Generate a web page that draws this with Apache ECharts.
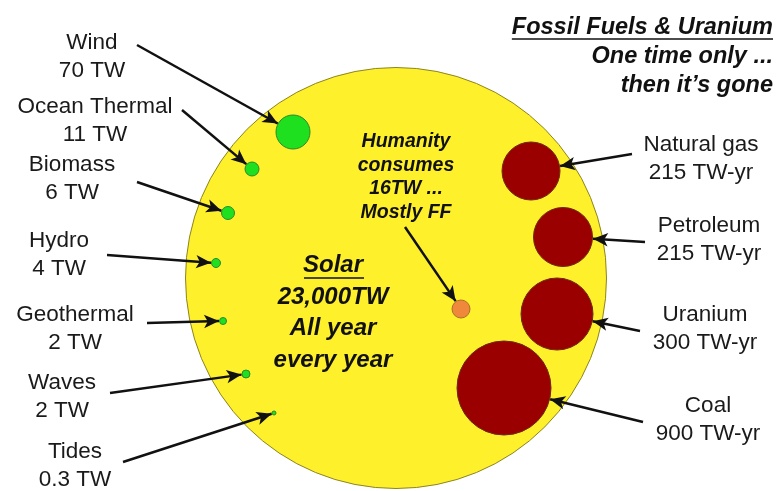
<!DOCTYPE html>
<html>
<head>
<meta charset="utf-8">
<script src="https://cdn.jsdelivr.net/npm/echarts@6/dist/echarts.min.js"></script>
<style>
  html, body { margin: 0; padding: 0; background: #fff; }
  #chart { width: 776px; height: 491px; }
</style>
</head>
<body>
<div id="chart"></div>
<script>
// data
const renewNames = ['Wind', 'Ocean Thermal', 'Biomass', 'Hydro', 'Geothermal', 'Waves', 'Tides'];
const renewTW = [70, 11, 6, 4, 2, 2, 0.3];
const fossilNames = ['Natural gas', 'Petroleum', 'Uranium', 'Coal'];
const fossilTWyr = [215, 215, 300, 900];
const solarTW = 23000;
const humanityTW = 16;

// layout (pixel-like units of the hidden axes)
const renewPos = [[293, 132], [252, 169], [228, 213], [216, 263], [223, 321], [246, 374], [274, 413]];
const renewSize = [34, 14, 13, 9, 7, 8, 4];
const renewLabelPos = [[92, 57], [95, 121], [72, 179], [59, 255], [75, 329], [62, 397], [75, 466]];
const renewTail = [[137, 45], [182, 110], [137, 182], [107, 255], [147, 323], [110, 393], [123, 462]];

const fossilPos = [[531, 171], [563, 237], [557, 314], [504, 388]];
const fossilSize = [58, 59, 72, 94];
const fossilLabelPos = [[701, 159], [709, 240], [705, 329], [708, 420]];
const fossilTail = [[632, 154], [645, 242], [640, 331], [643, 422]];

const solarPos = [396, 278];
const solarSize = 421;
const humanityPos = [461, 309];
const humanitySize = 18;
const humanityTail = [405, 227];

const FONT = "'Liberation Sans', Arial, sans-serif";

// arrow from tail to the edge of a bubble (tip sits on the line end)
function arrowTo(tail, center, size) {
  var dx = center[0] - tail[0], dy = center[1] - tail[1];
  var d = Math.sqrt(dx * dx + dy * dy);
  var back = size / 2 + 0.5;
  return { coords: [tail, [center[0] - dx / d * back, center[1] - dy / d * back]] };
}

var arrows = [];
renewTail.forEach(function (t, i) { arrows.push(arrowTo(t, renewPos[i], renewSize[i])); });
fossilTail.forEach(function (t, i) { arrows.push(arrowTo(t, fossilPos[i], fossilSize[i])); });
arrows.push(arrowTo(humanityTail, humanityPos, humanitySize));

var labelData = [];
renewNames.forEach(function (n, i) {
  labelData.push({ value: renewLabelPos[i], name: n + '\n' + renewTW[i] + ' TW' });
});
fossilNames.forEach(function (n, i) {
  labelData.push({ value: fossilLabelPos[i], name: n + '\n' + fossilTWyr[i] + ' TW-yr' });
});

var measure = document.createElement('canvas').getContext('2d');
function textWidth(txt, font) { measure.font = font; return measure.measureText(txt).width; }

var headFont = 'italic bold 23.5px ' + FONT;
var solarFont = 'italic bold 24px ' + FONT;
var headW = textWidth('Fossil Fuels & Uranium', headFont);
var solarW = textWidth('Solar', solarFont);

var chart = echarts.init(document.getElementById('chart'));
var option = {
  animation: false,
  backgroundColor: '#ffffff',
  grid: { left: 0, right: 0, top: 0, bottom: 0 },
  xAxis: { type: 'value', min: 0, max: 776, show: false },
  yAxis: { type: 'value', min: 0, max: 491, inverse: true, show: false },
  series: [
    {
      name: 'Solar',
      type: 'scatter',
      z: 1,
      symbolSize: solarSize,
      itemStyle: { color: '#fff02c', borderColor: '#8c8420', borderWidth: 1, opacity: 1 },
      data: [solarPos]
    },
    {
      name: 'Renewables',
      type: 'scatter',
      z: 3,
      symbolSize: function (v, p) { return renewSize[p.dataIndex]; },
      itemStyle: { color: '#1fe01f', borderColor: '#2a8a2a', borderWidth: 1, opacity: 1 },
      data: renewPos
    },
    {
      name: 'Fossil',
      type: 'scatter',
      z: 3,
      symbolSize: function (v, p) { return fossilSize[p.dataIndex]; },
      itemStyle: { color: '#9a0000', borderColor: '#6e2a10', borderWidth: 1, opacity: 1 },
      data: fossilPos
    },
    {
      name: 'Humanity',
      type: 'scatter',
      z: 3,
      symbolSize: humanitySize,
      itemStyle: { color: '#f0883c', borderColor: '#a8702a', borderWidth: 1, opacity: 1 },
      data: [humanityPos]
    },
    {
      name: 'Arrows',
      type: 'lines',
      coordinateSystem: 'cartesian2d',
      z: 4,
      symbol: ['none', 'arrow'],
      symbolSize: [0, [10, 15]],
      lineStyle: { color: '#111', width: 2.5, opacity: 1 },
      data: arrows
    },
    {
      name: 'Labels',
      type: 'scatter',
      z: 5,
      symbolSize: 0,
      silent: true,
      itemStyle: { opacity: 1 },
      label: {
        show: true,
        position: 'inside',
        formatter: '{b}',
        color: '#1a1a1a',
        textBorderWidth: 0,
        fontFamily: FONT,
        fontSize: 22.5,
        lineHeight: 28.5,
        align: 'center',
        verticalAlign: 'middle'
      },
      data: labelData
    }
  ],
  graphic: [
    {
      type: 'text', z: 100, x: 773, y: 57,
      style: {
        text: 'Fossil Fuels & Uranium\nOne time only ...\nthen it\u2019s gone',
        font: headFont, fill: '#111', align: 'right', verticalAlign: 'middle', lineHeight: 29
      }
    },
    {
      type: 'line', z: 100,
      shape: { x1: 773 - headW, y1: 39, x2: 773, y2: 39 },
      style: { stroke: '#111', lineWidth: 1.5 }
    },
    {
      type: 'text', z: 100, x: 333, y: 313,
      style: {
        text: 'Solar\n' + solarTW.toLocaleString('en-US') + 'TW\nAll year\nevery year',
        font: solarFont, fill: '#111', align: 'center', verticalAlign: 'middle', lineHeight: 31.5
      }
    },
    {
      type: 'line', z: 100,
      shape: { x1: 334 - solarW / 2, y1: 278, x2: 334 + solarW / 2, y2: 278 },
      style: { stroke: '#111', lineWidth: 1.5 }
    },
    {
      type: 'text', z: 100, x: 406, y: 177,
      style: {
        text: 'Humanity\nconsumes\n' + humanityTW + 'TW ...\nMostly FF',
        font: 'italic bold 19.5px ' + FONT, fill: '#111', align: 'center', verticalAlign: 'middle', lineHeight: 23.5
      }
    }
  ]
};
chart.setOption(option);
</script>
</body>
</html>
